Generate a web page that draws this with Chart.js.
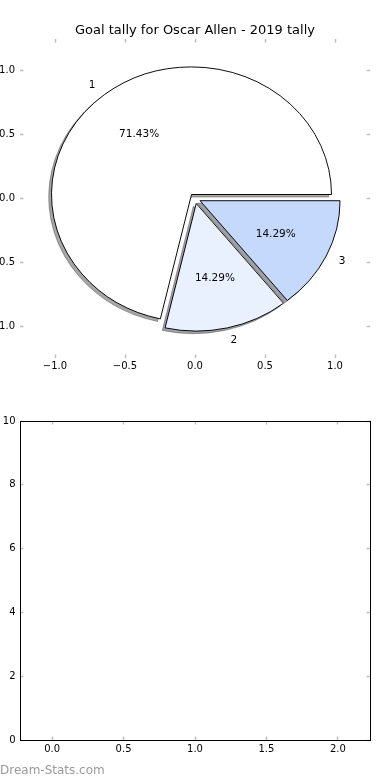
<!DOCTYPE html>
<html>
<head>
<meta charset="utf-8">
<script src="https://cdn.jsdelivr.net/npm/chart.js@4.4.0/dist/chart.umd.min.js"></script>
<style>
  html, body { margin: 0; padding: 0; background: #fff; }
  canvas { display: block; }
</style>
</head>
<body>
<canvas id="pieChart" width="390" height="390"></canvas>
<canvas id="emptyChart" width="390" height="390"></canvas>
<script>
// goal tally, one slice per label
const pieLabels = ['1', '2', '3'];
const pieGoals = [5, 1, 1];
const pieTicks = [-1.0, -0.5, 0.0, 0.5, 1.0];

// second (empty) panel
const barXTicks = [0.0, 0.5, 1.0, 1.5, 2.0];
const barYTicks = [0, 2, 4, 6, 8, 10];

const sliceColors = ['#ffffff', '#eaf1fe', '#c5d9fd'];
const EXPLODE = 0.04;   // data units
const SHADOW = 0.02;    // data units, down-left

Chart.defaults.font.family = 'DejaVu Sans';
Chart.defaults.font.size = 10;
Chart.defaults.color = '#000';
Chart.defaults.animation = false;

const minusFmt = v => v.toFixed(1).replace('-', '\u2212');

function shade(hex) {
    const n = parseInt(hex.slice(1), 16);
    const r = Math.round(((n >> 16) & 255) * 0.3);
    const g = Math.round(((n >> 8) & 255) * 0.3);
    const b = Math.round((n & 255) * 0.3);
    return `rgba(${r},${g},${b},0.5)`;
}

function pxPerUnit(chart, id) {
    const s = chart.scales[id];
    return Math.abs(s.getPixelForValue(1) - s.getPixelForValue(0));
}

function axis(position, min, max, values, opts) {
    const horizontal = position === 'top' || position === 'bottom';
    return {
        type: 'linear',
        axis: horizontal ? 'x' : 'y',
        position: position,
        min: min,
        max: max,
        afterBuildTicks: s => { s.ticks = values.map(v => ({ value: v })); },
        afterFit: s => { if (horizontal) s.height = opts.size; else s.width = opts.size; },
        border: { display: !!opts.frame, color: '#000', width: 1 },
        grid: {
            drawOnChartArea: false,
            drawTicks: true,
            tickLength: -3.5,   // inward ticks
            tickColor: '#bdbdbd',
            tickWidth: 1.5,
        },
        ticks: {
            display: !!opts.labels,
            padding: opts.pad || 0,
            callback: opts.fmt,
            autoSkip: false,
            maxRotation: 0,
            color: '#000',
            font: { size: 10 },
        },
    };
}

// draws the exploded, shadowed pie in the axes' data space (not equal aspect)
const mplPie = {
    id: 'mplPie',
    beforeDatasetDraw(chart, args) {
        if (args.meta.type !== 'pie') return;
        const ctx = chart.ctx;
        const kx = pxPerUnit(chart, 'x');
        const ky = pxPerUnit(chart, 'y');
        const arcs = args.meta.data;

        const place = (arc, dx, dy) => {
            const mid = (arc.startAngle + arc.endAngle) / 2;
            ctx.translate(dx, dy);
            ctx.translate(arc.x, arc.y);
            ctx.scale(1, -ky / kx);
            ctx.translate(-arc.x, -arc.y);
            ctx.translate(Math.cos(mid) * EXPLODE * kx, Math.sin(mid) * EXPLODE * kx);
        };

        // shadows first, below every wedge
        arcs.forEach((arc, i) => {
            const ghost = Object.create(arc);
            const c = shade(sliceColors[i]);
            ghost.options = Object.assign({}, arc.options, { backgroundColor: c, borderColor: c });
            ctx.save();
            place(arc, -SHADOW * kx, SHADOW * ky);
            ghost.draw(ctx);
            ctx.restore();
        });

        arcs.forEach(arc => {
            ctx.save();
            place(arc, 0, 0);
            arc.draw(ctx);
            ctx.restore();
        });
        return false;
    },
    afterDatasetsDraw(chart) {
        const meta = chart.getDatasetMeta(0);
        const ctx = chart.ctx;
        const sx = chart.scales.x;
        const sy = chart.scales.y;
        const total = pieGoals.reduce((a, b) => a + b, 0);
        ctx.save();
        ctx.font = '10.5px "DejaVu Sans"';
        ctx.fillStyle = '#000';
        ctx.textBaseline = 'middle';
        meta.data.forEach((arc, i) => {
            const mid = (arc.startAngle + arc.endAngle) / 2;
            const c = Math.cos(mid);
            const s = Math.sin(mid);
            const lx = (1.1 + EXPLODE) * c;
            const ly = (1.1 + EXPLODE) * s;
            ctx.textAlign = lx > 0 ? 'left' : 'right';
            ctx.fillText(pieLabels[i], sx.getPixelForValue(lx), sy.getPixelForValue(ly));
            ctx.textAlign = 'center';
            const pct = (pieGoals[i] / total * 100).toFixed(2) + '%';
            ctx.fillText(pct, sx.getPixelForValue((0.6 + EXPLODE) * c), sy.getPixelForValue((0.6 + EXPLODE) * s));
        });
        ctx.restore();
    }
};

const watermark = {
    id: 'watermark',
    afterDraw(chart) {
        const ctx = chart.ctx;
        ctx.save();
        ctx.font = '12px "DejaVu Sans"';
        ctx.fillStyle = '#9a9a9a';
        ctx.textAlign = 'left';
        ctx.textBaseline = 'alphabetic';
        ctx.fillText('Dream-Stats.com', 0, 384);
        ctx.restore();
    }
};

new Chart(document.getElementById('pieChart'), {
    type: 'scatter',
    data: {
        labels: pieLabels,
        datasets: [{
            type: 'pie',
            data: pieGoals,
            backgroundColor: sliceColors,
            borderColor: '#000',
            borderWidth: 1,
            borderJoinStyle: 'miter',
            rotation: 90,
            radius: c => pxPerUnit(c.chart, 'x'),
        }]
    },
    options: {
        responsive: false,
        events: [],
        layout: { padding: 0, autoPadding: false },
        plugins: {
            legend: { display: false },
            tooltip: { enabled: false },
            title: {
                display: true,
                text: 'Goal tally for Oscar Allen - 2019 tally',
                color: '#000',
                font: { size: 13, weight: 'normal', lineHeight: 1.2 },
                padding: { top: 22.6, bottom: 0.8 },
            },
        },
        scales: {
            x: axis('bottom', -1.25, 1.25, pieTicks, { size: 32, labels: true, pad: 5.5, fmt: minusFmt }),
            x2: axis('top', -1.25, 1.25, pieTicks, { size: 0 }),
            y: axis('left', -1.25, 1.25, pieTicks, { size: 20, labels: true, pad: 8.5, fmt: minusFmt }),
            y2: axis('right', -1.25, 1.25, pieTicks, { size: 20 }),
        }
    },
    plugins: [mplPie]
});

new Chart(document.getElementById('emptyChart'), {
    type: 'scatter',
    data: { datasets: [] },
    options: {
        responsive: false,
        events: [],
        layout: { padding: 0, autoPadding: false },
        plugins: {
            legend: { display: false },
            tooltip: { enabled: false },
        },
        scales: {
            x: axis('bottom', -0.225, 2.225, barXTicks, { size: 40, labels: true, frame: true, pad: 6.8, fmt: v => v.toFixed(1) }),
            x2: axis('top', -0.225, 2.225, barXTicks, { size: 31, frame: true }),
            y: axis('left', 0, 10, barYTicks, { size: 20, labels: true, frame: true, pad: 8, fmt: v => String(v) }),
            y2: axis('right', 0, 10, barYTicks, { size: 20, frame: true }),
        }
    },
    plugins: [watermark]
});
</script>
</body>
</html>
